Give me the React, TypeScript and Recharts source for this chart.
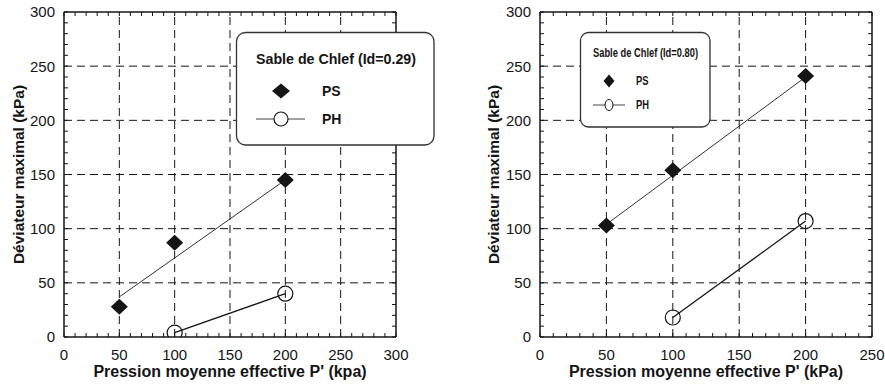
import React from "react"
import { ScatterChart, Scatter, XAxis, YAxis, ReferenceLine } from "recharts"

const FONT = "'Liberation Sans', Arial, Helvetica, sans-serif"
const INK = "#151515"

// Sable de Chlef, Id = 0.29
const psLoose = [
  { x: 50, y: 28 },
  { x: 100, y: 87 },
  { x: 200, y: 145 },
]
const psLooseFit = [
  { x: 50, y: 37 },
  { x: 200, y: 145 },
]
const phLoose = [
  { x: 100, y: 4 },
  { x: 200, y: 40 },
]

// Sable de Chlef, Id = 0.80
const psDense = [
  { x: 50, y: 103 },
  { x: 100, y: 154 },
  { x: 200, y: 241 },
]
const psDenseFit = [
  { x: 50, y: 104 },
  { x: 200, y: 240 },
]
const phDense = [
  { x: 100, y: 18 },
  { x: 200, y: 107 },
]

const majorX300 = [0, 50, 100, 150, 200, 250, 300]
const majorX250 = [0, 50, 100, 150, 200, 250]
const majorY = [0, 50, 100, 150, 200, 250, 300]

const minorTicks = (max: number) => Array.from({ length: max / 10 + 1 }, (_, i) => i * 10)
const isMajor = (v: number) => v % 50 === 0

const TICK_LEN = 4
const X_MARGIN = 12
const Y_MARGIN = 9

// tick renderers: an inward minor tick on every 10, a label on every 50
const BottomTick = (p: any) => {
  const v = p.payload.value
  const axisY = p.y - X_MARGIN
  return (
    <g>
      <line x1={p.x} x2={p.x} y1={axisY} y2={axisY - TICK_LEN} stroke={INK} strokeWidth={1} />
      {isMajor(v) && (
        <text x={p.x} y={p.y} dy="0.71em" textAnchor="middle" fontSize={15} fill={INK}>
          {v}
        </text>
      )}
    </g>
  )
}

const LeftTick = (p: any) => {
  const v = p.payload.value
  const axisX = p.x + Y_MARGIN
  return (
    <g>
      <line x1={axisX} x2={axisX + TICK_LEN} y1={p.y} y2={p.y} stroke={INK} strokeWidth={1} />
      {isMajor(v) && (
        <text x={p.x} y={p.y} dy="0.36em" textAnchor="end" fontSize={15} fill={INK}>
          {v}
        </text>
      )}
    </g>
  )
}

const TopTick = (p: any) => (
  <line x1={p.x} x2={p.x} y1={p.y} y2={p.y + TICK_LEN} stroke={INK} strokeWidth={1} />
)

const RightTick = (p: any) => (
  <line x1={p.x} x2={p.x - TICK_LEN} y1={p.y} y2={p.y} stroke={INK} strokeWidth={1} />
)

const Diamond = (props: any) => {
  const { cx, cy } = props
  const w = 8.5
  const h = 8
  return <path d={`M${cx},${cy - h}L${cx + w},${cy}L${cx},${cy + h}L${cx - w},${cy}Z`} fill={INK} />
}

const Ring = (props: any) => {
  const { cx, cy } = props
  return <circle cx={cx} cy={cy} r={7.5} fill="none" stroke={INK} strokeWidth={1.2} />
}

const Nothing = () => <g />

const axisLine = { stroke: INK, strokeWidth: 1.5 }
const titleStyle = { fontWeight: "bold", fill: INK, textAnchor: "middle" as const }

function Panel(props: {
  width: number
  right: number
  yAxisWidth: number
  yTitleOffset: number
  xMax: number
  majorX: number[]
  xTitle: string
  ps: { x: number; y: number }[]
  psFit: { x: number; y: number }[]
  ph: { x: number; y: number }[]
}) {
  const { width, right, yAxisWidth, yTitleOffset, xMax, majorX, xTitle, ps, psFit, ph } = props
  const minorX = minorTicks(xMax)
  const minorY = minorTicks(300)
  return (
    <ScatterChart width={width} height={386} margin={{ top: 11, right: right - 1, bottom: 0, left: 0 }}>
      <XAxis
        type="number"
        dataKey="x"
        domain={[0, xMax]}
        allowDataOverflow
        ticks={minorX}
        interval={0}
        tickSize={0}
        tickMargin={X_MARGIN}
        axisLine={axisLine}
        tickLine={false}
        tick={BottomTick}
        height={49}
        label={{ value: xTitle, position: "insideBottom", offset: 9, style: { ...titleStyle, fontSize: 16 } }}
      />
      <YAxis
        type="number"
        dataKey="y"
        domain={[0, 300]}
        allowDataOverflow
        ticks={minorY}
        interval={0}
        tickSize={0}
        tickMargin={Y_MARGIN}
        axisLine={axisLine}
        tickLine={false}
        tick={LeftTick}
        width={yAxisWidth}
        label={{
          value: "Déviateur maximal (kPa)",
          angle: -90,
          position: "insideLeft",
          offset: yTitleOffset,
          style: { ...titleStyle, fontSize: 15.5 },
        }}
      />
      <XAxis
        xAxisId="t"
        orientation="top"
        type="number"
        dataKey="x"
        domain={[0, xMax]}
        allowDataOverflow
        ticks={minorX}
        interval={0}
        tickSize={0}
        tickMargin={0}
        axisLine={axisLine}
        tickLine={false}
        tick={TopTick}
        height={1}
      />
      <YAxis
        yAxisId="r"
        orientation="right"
        type="number"
        dataKey="y"
        domain={[0, 300]}
        allowDataOverflow
        ticks={minorY}
        interval={0}
        tickSize={0}
        tickMargin={0}
        axisLine={axisLine}
        tickLine={false}
        tick={RightTick}
        width={1}
      />
      {majorX.slice(1, -1).map((v) => (
        <ReferenceLine key={`gx${v}`} x={v} stroke={INK} strokeWidth={1} strokeDasharray="8 5" />
      ))}
      {majorY.slice(1, -1).map((v) => (
        <ReferenceLine key={`gy${v}`} y={v} stroke={INK} strokeWidth={1} strokeDasharray="8 5" />
      ))}
      <Scatter xAxisId="t" yAxisId="r" data={psFit} shape={Nothing} isAnimationActive={false} />
      <Scatter data={psFit} line={{ stroke: "#333", strokeWidth: 1 }} shape={Nothing} isAnimationActive={false} />
      <Scatter data={ps} shape={Diamond} isAnimationActive={false} />
      <Scatter data={ph} line={{ stroke: INK, strokeWidth: 1.3 }} shape={Ring} isAnimationActive={false} />
    </ScatterChart>
  )
}

function Legends() {
  return (
    <svg width={885} height={386} style={{ position: "absolute", left: 0, top: 0, pointerEvents: "none" }}>
      <g fontFamily={FONT} fontWeight="bold" fill={INK}>
        <rect x={236.5} y={32.5} width={197.5} height={112.5} rx={9} fill="#fff" stroke="#333" strokeWidth={1.3} />
        <text x={336} y={64} fontSize={14} textAnchor="middle" textLength={160} lengthAdjust="spacingAndGlyphs">
          Sable de Chlef (Id=0.29)
        </text>
        <path d="M281,83.5L290,91L281,98.5L272,91Z" fill={INK} />
        <text x={322} y={96} fontSize={14}>
          PS
        </text>
        <line x1={256} y1={119} x2={305} y2={119} stroke="#444" strokeWidth={1} />
        <circle cx={281} cy={119} r={7} fill="#fff" stroke={INK} strokeWidth={1.2} />
        <text x={322} y={124} fontSize={14}>
          PH
        </text>

        <rect x={580.5} y={32.5} width={129.5} height={94.5} rx={8} fill="#fff" stroke="#333" strokeWidth={1.3} />
        <text x={593} y={57} fontSize={12} textLength={105} lengthAdjust="spacingAndGlyphs">
          Sable de Chlef (Id=0.80)
        </text>
        <path d="M609,74.5L614.5,81L609,87.5L603.5,81Z" fill={INK} />
        <text x={636} y={85} fontSize={12} textLength={12.5} lengthAdjust="spacingAndGlyphs">
          PS
        </text>
        <line x1={593} y1={105} x2={625} y2={105} stroke="#444" strokeWidth={1} />
        <ellipse cx={609} cy={105} rx={4} ry={5.5} fill="#fff" stroke={INK} strokeWidth={1} />
        <text x={636} y={109} fontSize={12} textLength={13} lengthAdjust="spacingAndGlyphs">
          PH
        </text>
      </g>
    </svg>
  )
}

export default function App() {
  return (
    <div
      style={{
        position: "absolute",
        left: 0,
        top: 0,
        width: 885,
        height: 386,
        background: "#fff",
        fontFamily: FONT,
      }}
    >
      <div style={{ position: "absolute", left: 0, top: 0 }}>
        <Panel
          width={440}
          right={44}
          yAxisWidth={64}
          yTitleOffset={18}
          xMax={300}
          majorX={majorX300}
          xTitle="Pression moyenne effective P' (kpa)"
          ps={psLoose}
          psFit={psLooseFit}
          ph={phLoose}
        />
      </div>
      <div style={{ position: "absolute", left: 440, top: 0 }}>
        <Panel
          width={445}
          right={13}
          yAxisWidth={100}
          yTitleOffset={53}
          xMax={250}
          majorX={majorX250}
          xTitle="Pression moyenne effective P' (kPa)"
          ps={psDense}
          psFit={psDenseFit}
          ph={phDense}
        />
      </div>
      <Legends />
    </div>
  )
}
